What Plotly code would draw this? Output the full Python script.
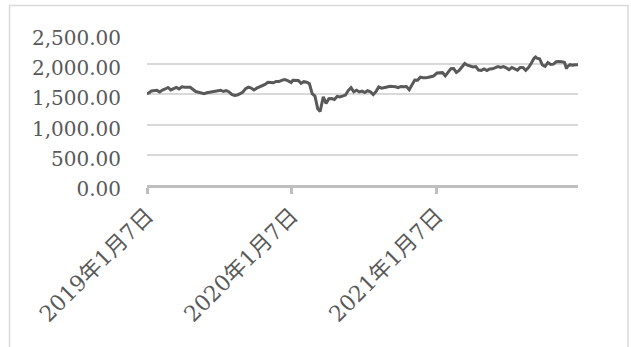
import plotly.graph_objects as go

# Weekly index closes, Jan 2019 - Dec 2021
dates = [
    "2019-01-07", "2019-01-11", "2019-01-18", "2019-01-25", "2019-02-01", "2019-02-08",
    "2019-02-15", "2019-02-22", "2019-03-01", "2019-03-08", "2019-03-15", "2019-03-22",
    "2019-03-29", "2019-04-05", "2019-04-12", "2019-04-19", "2019-04-26", "2019-05-10",
    "2019-05-17", "2019-05-24", "2019-05-31", "2019-06-07", "2019-06-14", "2019-06-21",
    "2019-06-28", "2019-07-05", "2019-07-12", "2019-07-19", "2019-07-26", "2019-08-02",
    "2019-08-09", "2019-08-16", "2019-08-23", "2019-08-30", "2019-09-06", "2019-09-13",
    "2019-09-20", "2019-09-27", "2019-10-04", "2019-10-11", "2019-10-18", "2019-10-25",
    "2019-11-01", "2019-11-08", "2019-11-15", "2019-11-22", "2019-11-29", "2019-12-06",
    "2019-12-13", "2019-12-20", "2019-12-27", "2019-12-30",
    "2020-01-06", "2020-01-10", "2020-01-17", "2020-01-24", "2020-01-31", "2020-02-07",
    "2020-02-14", "2020-02-21", "2020-02-28", "2020-03-06", "2020-03-13", "2020-03-16",
    "2020-03-19", "2020-03-27", "2020-04-03", "2020-04-10", "2020-04-17", "2020-04-24",
    "2020-05-01", "2020-05-08", "2020-05-15", "2020-05-22", "2020-05-29", "2020-06-05",
    "2020-06-12", "2020-06-19", "2020-06-26", "2020-07-03", "2020-07-10", "2020-07-17",
    "2020-07-24", "2020-07-31", "2020-08-07", "2020-08-14", "2020-08-21", "2020-08-28",
    "2020-09-04", "2020-09-11", "2020-09-18", "2020-09-25", "2020-10-02", "2020-10-09",
    "2020-10-16", "2020-10-23", "2020-10-30", "2020-11-06", "2020-11-13", "2020-11-20",
    "2020-11-27", "2020-12-04", "2020-12-11", "2020-12-18", "2020-12-25", "2020-12-30",
    "2021-01-08", "2021-01-15", "2021-01-22", "2021-01-29", "2021-02-05", "2021-02-12",
    "2021-02-19", "2021-02-26", "2021-03-05", "2021-03-12", "2021-03-19", "2021-03-26",
    "2021-04-02", "2021-04-09", "2021-04-16", "2021-04-23", "2021-04-30", "2021-05-07",
    "2021-05-14", "2021-05-21", "2021-05-28", "2021-06-04", "2021-06-11", "2021-06-18",
    "2021-06-25", "2021-07-02", "2021-07-09", "2021-07-16", "2021-07-21", "2021-07-30",
    "2021-08-06", "2021-08-13", "2021-08-20", "2021-08-27", "2021-09-03", "2021-09-10",
    "2021-09-14", "2021-09-17", "2021-09-24", "2021-10-01", "2021-10-08", "2021-10-15",
    "2021-10-22", "2021-10-29", "2021-11-05", "2021-11-12", "2021-11-19", "2021-11-26",
    "2021-12-01", "2021-12-03", "2021-12-10", "2021-12-17", "2021-12-24", "2021-12-30",
]

values = [
    1512, 1522, 1557, 1566, 1567, 1539,
    1573, 1590, 1615, 1574, 1601, 1617,
    1591, 1626, 1620, 1618, 1617, 1548,
    1535, 1523, 1512, 1527, 1535, 1543,
    1551, 1567, 1569, 1548, 1564, 1540,
    1499, 1484, 1491, 1511, 1539, 1595,
    1621, 1606, 1573, 1603, 1620, 1648,
    1666, 1702, 1697, 1693, 1714, 1712,
    1733, 1747, 1733, 1721,
    1697, 1735, 1735, 1730, 1684, 1711,
    1702, 1675, 1511, 1471, 1261, 1236,
    1217, 1459, 1351, 1430, 1432, 1416,
    1467, 1458, 1473, 1488, 1563, 1612,
    1542, 1568, 1540, 1555, 1530, 1560,
    1544, 1496, 1546, 1623, 1604, 1618,
    1624, 1633, 1634, 1625, 1613, 1632,
    1625, 1631, 1579, 1647, 1737, 1736,
    1786, 1777, 1774, 1785, 1790, 1804,
    1854, 1857, 1860, 1808, 1869, 1926,
    1928, 1864, 1896, 1951, 2012, 1984,
    1971, 1955, 1961, 1903, 1898, 1921,
    1894, 1922, 1924, 1949, 1960, 1946,
    1960, 1939, 1911, 1945, 1930, 1901,
    1944, 1946, 1899, 1946, 2015, 2098,
    2118, 2100, 2090, 1987, 1965, 2029,
    1997, 2001, 2040, 2046, 2039, 2028,
    1926, 1960, 1992, 1985, 1991, 1992,
]

tick_dates = ["2019-01-07", "2020-01-07", "2021-01-07"]
tick_labels = ["2019年1月7日", "2020年1月7日", "2021年1月7日"]

TEXT = "#595959"
GRID = "#d9d9d9"
AXIS = "#bfbfbf"
FONT = "DejaVu Serif, Noto Sans CJK JP, serif"

fig = go.Figure(
    go.Scatter(
        x=dates,
        y=values,
        mode="lines",
        line=dict(color="#595959", width=3),
        hoverinfo="x+y",
    )
)

W, H = 631, 347
L, R, T, B = 147, 53, 34, 162
pw, ph = W - L - R, H - T - B

# outer chart frame
fig.add_shape(
    type="rect",
    xref="paper", yref="paper",
    x0=(9.5 - L) / pw, x1=(628 - L) / pw,
    y0=(H - B - 360) / ph, y1=(H - B - 5.5) / ph,
    line=dict(color=GRID, width=1.5),
    fillcolor="rgba(0,0,0,0)",
    layer="below",
)

fig.update_layout(
    width=W,
    height=H,
    margin=dict(l=L, r=R, t=T, b=B),
    paper_bgcolor="white",
    plot_bgcolor="white",
    showlegend=False,
    font=dict(family=FONT, size=20, color=TEXT),
    xaxis=dict(
        type="date",
        range=["2019-01-07", "2021-12-30"],
        tickmode="array",
        tickvals=tick_dates,
        ticktext=tick_labels,
        tickangle=-45,
        showgrid=False,
        showline=True,
        linecolor=AXIS,
        linewidth=3,
        ticks="outside",
        ticklen=6,
        tickwidth=3,
        tickcolor=AXIS,
        tickfont=dict(family=FONT, size=22, color=TEXT),
        zeroline=False,
    ),
    yaxis=dict(
        range=[0, 2500],
        tickmode="linear",
        tick0=0,
        dtick=500,
        tickformat=",.2f",
        showgrid=True,
        gridcolor=GRID,
        gridwidth=1.5,
        zeroline=False,
        showline=False,
        ticks="",
        ticklabelstandoff=25,
        ticklabelshift=4,
        tickfont=dict(family=FONT, size=20, color=TEXT),
    ),
)

fig.write_html("out.html")
